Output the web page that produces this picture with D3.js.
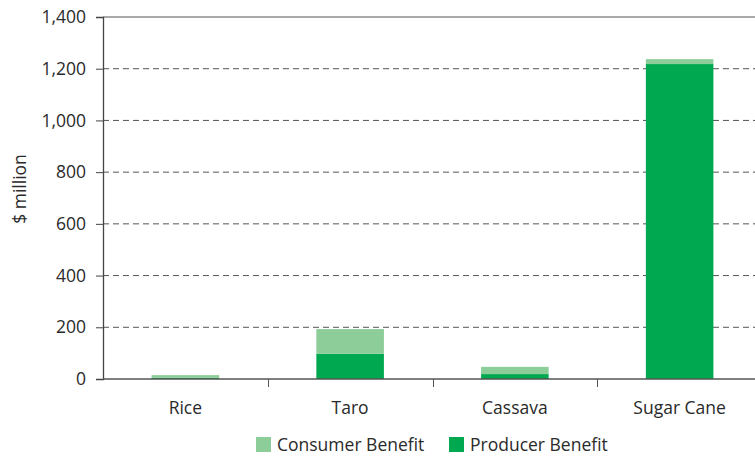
<!DOCTYPE html>
<html><head><meta charset="utf-8">
<script src="https://cdn.jsdelivr.net/npm/d3@7"></script>
<style>body{margin:0;background:#fff}svg{display:block}text{font-family:"Open Sans",sans-serif;fill:#2a2a2a}</style>
</head><body><svg id="c" width="755" height="457"></svg>
<script>
const categories = ["Rice", "Taro", "Cassava", "Sugar Cane"];
const producer = [5, 98, 19, 1218];
const consumer = [10, 95, 28, 19];
const seriesNames = ["Consumer Benefit", "Producer Benefit"];
const yTicks = [0, 200, 400, 600, 800, 1000, 1200, 1400];

const svg = d3.select("#c");
const x0 = 103, x1 = 762, yTop = 17, yBot = 379;
const x = d3.scaleBand().domain(categories).range([x0, x1]);
const y = d3.scaleLinear().domain([0, 1400]).range([yBot, yTop]);
const colC = "#8ccd9a", colP = "#00a84f";
const fs = "17.5px";

// gridlines
svg.append("g").selectAll("line").data(yTicks.filter(d => d > 0 && d < 1400)).join("line")
  .attr("x1", x0).attr("x2", 755).attr("y1", d => y(d)).attr("y2", d => y(d))
  .attr("stroke", "#555").attr("stroke-width", 1).attr("stroke-dasharray", "6,4");
svg.append("line").attr("x1", x0).attr("x2", 755).attr("y1", y(1400)).attr("y2", y(1400)).attr("stroke", "#555");

// bars
const bw = x.step() * 0.41;
const g = svg.append("g");
categories.forEach((c, i) => {
  const cx = x(c) + x.bandwidth() / 2;
  g.append("rect").attr("x", cx - bw / 2).attr("width", bw)
    .attr("y", y(producer[i])).attr("height", y(0) - y(producer[i])).attr("fill", colP);
  g.append("rect").attr("x", cx - bw / 2).attr("width", bw)
    .attr("y", y(producer[i] + consumer[i])).attr("height", y(producer[i]) - y(producer[i] + consumer[i])).attr("fill", colC);
});

// y axis
const ya = svg.append("g").attr("transform", `translate(${x0},0)`)
  .call(d3.axisLeft(y).tickValues(yTicks).tickSize(7).tickPadding(10).tickFormat(d3.format(",")));
ya.select(".domain").attr("stroke", "#444").attr("stroke-width", 1.3);
ya.selectAll(".tick line").attr("stroke", "#444");
ya.selectAll("text").style("font-size", fs).attr("fill", "#2a2a2a");

// x axis
svg.append("line").attr("x1", x0).attr("x2", 755).attr("y1", yBot).attr("y2", yBot).attr("stroke", "#555").attr("stroke-width", 1.5);
svg.append("g").selectAll("line").data(categories.slice(1)).join("line")
  .attr("x1", d => Math.round(x(d)) + 0.5).attr("x2", d => Math.round(x(d)) + 0.5)
  .attr("y1", yBot).attr("y2", yBot + 8).attr("stroke", "#555");
svg.append("g").selectAll("text").data(categories).join("text")
  .attr("x", d => x(d) + x.bandwidth() / 2).attr("y", 414)
  .attr("text-anchor", "middle").style("font-size", fs).text(d => d);

// y label
svg.append("text").attr("transform", "translate(26,189) rotate(-90)")
  .attr("text-anchor", "middle").style("font-size", fs).text("$ million");

// legend
const lg = svg.append("g");
const litems = [{n: seriesNames[0], c: colC, x: 256}, {n: seriesNames[1], c: colP, x: 449}];
litems.forEach(d => {
  lg.append("rect").attr("x", d.x).attr("y", 437).attr("width", 15).attr("height", 15).attr("fill", d.c);
  lg.append("text").attr("x", d.x + 21).attr("y", 451).style("font-size", fs).text(d.n);
});
</script></body></html>
